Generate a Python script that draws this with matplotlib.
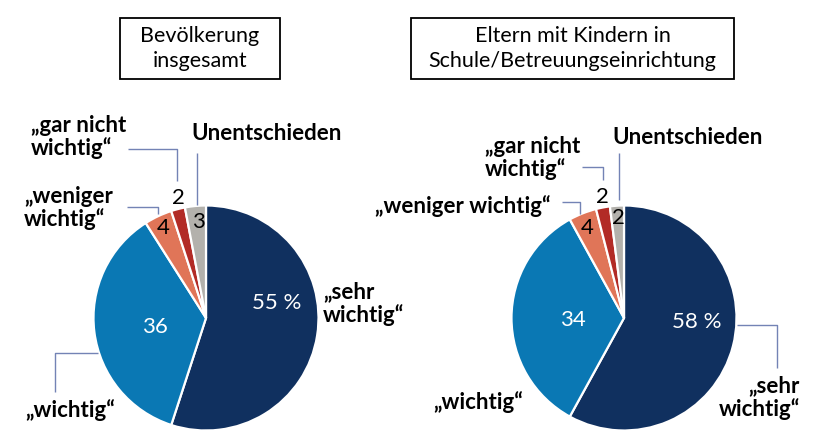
import matplotlib
matplotlib.use("Agg")
import matplotlib.pyplot as plt
from matplotlib.patches import Rectangle

plt.rcParams['font.family'] = ['Lato', 'DejaVu Sans']

W, H = 823, 432

# data
categories = ['„sehr\nwichtig“', '„wichtig“', '„weniger\nwichtig“', '„gar nicht\nwichtig“', 'Unentschieden']
total_values = [55, 36, 4, 2, 3]
parents_values = [58, 34, 4, 2, 2]
titles = ['Bevölkerung\ninsgesamt', 'Eltern mit Kindern in\nSchule/Betreuungseinrichtung']
colors = ['#10305f', '#0a78b4', '#e07558', '#b22b26', '#b3b1ac']

LEADER = '#7383b5'


def py(y):
    # pixel row from top -> data y
    return H - y


def leader(ax, pts):
    xs = [p[0] for p in pts]
    ys = [py(p[1]) for p in pts]
    ax.plot(xs, ys, color=LEADER, lw=1.0, solid_capstyle='butt')


def label(ax, x, y, s, ha='left', size=16, color='black', weight='bold'):
    ax.text(x, py(y), s, ha=ha, va='center', fontsize=size, color=color,
            fontweight=weight, linespacing=1.1, multialignment=ha)


def title_box(ax, x0, x1, y0, y1, s):
    ax.add_patch(Rectangle((x0, py(y1)), x1 - x0, y1 - y0, fill=False,
                           edgecolor='black', lw=1.3))
    ax.text((x0 + x1) / 2, py((y0 + y1) / 2), s, ha='center', va='center',
            fontsize=15.5, linespacing=1.3)


def draw_pie(ax, values, cx, cy, r):
    ax.pie(values, colors=colors, startangle=90, counterclock=False,
           center=(cx, py(cy)), radius=r, frame=True,
           wedgeprops=dict(edgecolor='white', linewidth=1.6))


fig = plt.figure(figsize=(W / 100, H / 100), dpi=100)
ax = fig.add_axes([0, 0, 1, 1])

# left pie: population overall
draw_pie(ax, total_values, 206, 318, 112.5)
title_box(ax, 120, 280, 18, 79, titles[0])
label(ax, 277, 303, f'{total_values[0]} %', ha='center', color='white', weight='normal')
label(ax, 155, 327, str(total_values[1]), ha='center', color='white', weight='normal')
label(ax, 163, 228, str(total_values[2]), ha='center', weight='normal')
label(ax, 178, 198, str(total_values[3]), ha='center', weight='normal')
label(ax, 198, 222, str(total_values[4]), ha='center', weight='normal')
label(ax, 323, 304, categories[0])
label(ax, 25, 410, categories[1])
label(ax, 24, 208, categories[2])
label(ax, 31, 137, categories[3])
label(ax, 191, 134, categories[4])
leader(ax, [(98, 353), (55, 353), (55, 392)])
leader(ax, [(127, 207), (158, 207), (158, 214)])
leader(ax, [(128, 149), (177, 149), (177, 181)])
leader(ax, [(197, 153), (197, 205)])

# right pie: parents
draw_pie(ax, parents_values, 624, 318, 112.5)
title_box(ax, 411, 734, 18, 79, titles[1])
label(ax, 697, 322, f'{parents_values[0]} %', ha='center', color='white', weight='normal')
label(ax, 573, 320, str(parents_values[1]), ha='center', color='white', weight='normal')
label(ax, 587, 228, str(parents_values[2]), ha='center', weight='normal')
label(ax, 602, 197, str(parents_values[3]), ha='center', weight='normal')
label(ax, 618, 218, str(parents_values[4]), ha='center', weight='normal')
label(ax, 800, 398, categories[0], ha='right')
label(ax, 433, 402, categories[1])
label(ax, 551, 206, categories[2].replace('\n', ' '), ha='right')
label(ax, 485, 158, categories[3])
label(ax, 612, 137, categories[4])
leader(ax, [(737, 325), (777, 325), (777, 368)])
leader(ax, [(562, 202), (580, 202), (580, 214)])
leader(ax, [(582, 167), (603, 167), (603, 180)])
leader(ax, [(619, 153), (619, 200)])

ax.set_xlim(0, W)
ax.set_ylim(0, H)
ax.set_aspect('equal')
ax.set_axis_off()

fig.savefig('out.png', dpi=100)
